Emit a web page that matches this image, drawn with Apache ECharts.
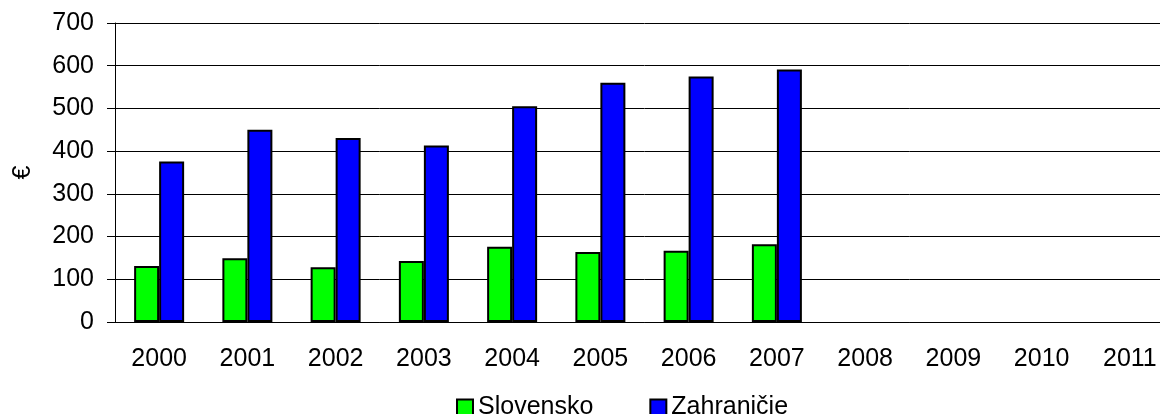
<!DOCTYPE html>
<html>
<head>
<meta charset="utf-8">
<script src="https://cdn.jsdelivr.net/npm/echarts@6/dist/echarts.min.js"></script>
<style>
  html, body { margin: 0; padding: 0; background: #fff; overflow: hidden; }
  /* the original plot runs a little past the right edge of the picture */
  #chart { width: 1176px; height: 414px; }
</style>
</head>
<body>
<div id="chart"></div>
<script>
// years on the x axis (2008-2011 have no values)
var years = ["2000", "2001", "2002", "2003", "2004", "2005", "2006", "2007", "2008", "2009", "2010", "2011"];
var slovensko = [131, 149, 128, 143, 176, 164, 167, 182, null, null, null, null];
var zahranicie = [376, 450, 431, 413, 505, 560, 575, 591, null, null, null, null];
var seriesNames = ["Slovensko", "Zahraničie"];

var font = "Liberation Sans, Arial, sans-serif";
var myChart = echarts.init(document.getElementById("chart"));
myChart.setOption({
  animation: false,
  color: ["#00ff00", "#0000ff"],
  textStyle: { fontFamily: font },
  grid: {
    left: 115,
    top: 23,
    bottom: 92,
    width: 1059
  },
  legend: {
    data: seriesNames,
    left: 451,
    top: 390,
    itemWidth: 16,
    itemHeight: 16,
    itemGap: 56,
    icon: "rect",
    textStyle: { fontSize: 25, color: "#000", fontFamily: font },
    itemStyle: { borderColor: "#000", borderWidth: 2 }
  },
  xAxis: {
    type: "category",
    data: years,
    axisLine: { lineStyle: { color: "#000", width: 1 } },
    axisTick: { length: 8, lineStyle: { color: "#000" } },
    axisLabel: { fontSize: 25, color: "#000", margin: 25, fontFamily: font }
  },
  yAxis: {
    type: "value",
    name: "€",
    nameLocation: "middle",
    nameGap: 79,
    nameTextStyle: { fontSize: 25, color: "#000", fontFamily: font },
    min: 0,
    max: 700,
    interval: 100,
    axisLine: { show: true, lineStyle: { color: "#000", width: 1 } },
    axisTick: { show: true, length: 8, lineStyle: { color: "#000" } },
    axisLabel: { fontSize: 25, color: "#000", margin: 21, fontFamily: font },
    splitLine: { lineStyle: { color: "#000", width: 1 } }
  },
  series: [
    {
      name: seriesNames[0],
      type: "bar",
      data: slovensko,
      barWidth: 25,
      barGap: "0%",
      itemStyle: { borderColor: "#000", borderWidth: 2 }
    },
    {
      name: seriesNames[1],
      type: "bar",
      data: zahranicie,
      barWidth: 25,
      itemStyle: { borderColor: "#000", borderWidth: 2 }
    }
  ]
});
</script>
</body>
</html>
